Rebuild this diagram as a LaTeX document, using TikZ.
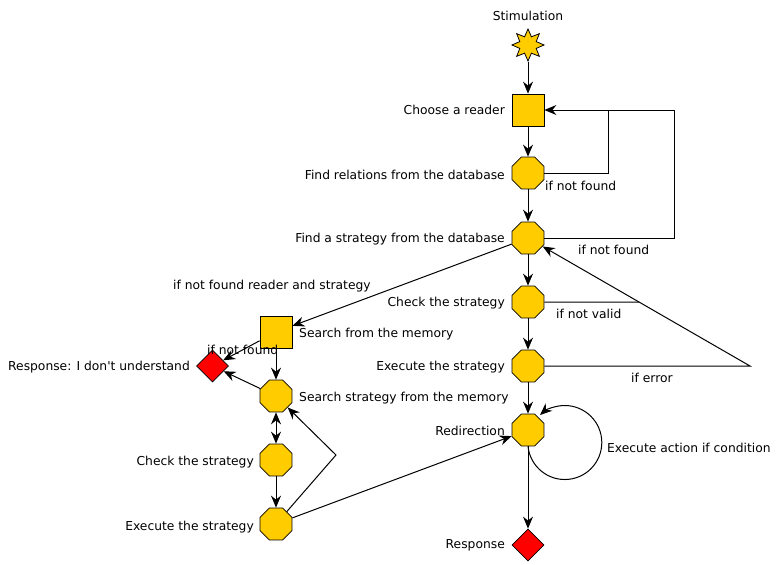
\documentclass[tikz,border=0pt]{standalone}
\usepackage{fontspec}
\setmainfont[Ligatures=NoCommon]{DejaVu Sans}
\usetikzlibrary{shapes.geometric,arrows.meta}
\definecolor{gold}{RGB}{255,204,0}
\definecolor{rred}{RGB}{255,0,0}
\begin{document}
\begin{tikzpicture}[x=1pt,y=-1pt,
  every node/.style={font=\fontsize{12.3}{14}\selectfont},
  oct/.style={regular polygon, regular polygon sides=8, minimum size=34.6pt, inner sep=0pt, draw, fill=gold, line width=0.8pt},
  sq/.style={rectangle, minimum size=32pt, inner sep=0pt, draw, fill=gold, line width=0.8pt},
  dia/.style={diamond, aspect=1, minimum size=32pt, inner sep=0pt, draw, fill=rred, line width=0.8pt},
  burst/.style={star, star points=8, star point ratio=1.8, minimum size=32pt, inner sep=0pt, draw, fill=gold, line width=0.8pt},
  lblr/.style={anchor=base east, inner sep=0pt},
  lbll/.style={anchor=base west, inner sep=0pt},
  conn/.style={line width=1pt},
  arr/.style={conn, -{Stealth[length=12pt,width=10pt,inset=4pt]}},
  darr/.style={conn, {Stealth[length=12pt,width=10pt,inset=4pt]}-{Stealth[length=12pt,width=10pt,inset=4pt]}}
]
\useasboundingbox (0,0) rectangle (780,565);
\fill[white] (0,0) rectangle (780,565);

% main column
\node[burst] (stim) at (528,45) {};
\node[sq] (reader) at (528,110) {};
\node[oct] (rel) at (528,173) {};
\node[oct] (strat) at (528,238) {};
\node[oct] (check) at (528,302) {};
\node[oct] (exec) at (528,366) {};
\node[oct] (redir) at (528,430) {};
\node[dia] (resp) at (528,545) {};

% left column
\node[sq] (mem) at (276,332) {};
\node[dia] (dontu) at (212.5,366) {};
\node[oct] (smem) at (276,396) {};
\node[oct] (lcheck) at (276,460) {};
\node[oct] (lexec) at (276,524) {};

% labels
\node[anchor=base, inner sep=0pt] (tstim) at (528,20) {Stimulation};
\node[lblr] (treader) at (505,114) {Choose a reader};
\node[lblr] (trel) at (505,179) {Find relations from the database};
\node[lblr] (tstrat) at (505,242) {Find a strategy from the database};
\node[lblr] (tcheck) at (505,306) {Check the strategy};
\node[lblr] (texec) at (505,370) {Execute the strategy};
\node[lblr] (tredir) at (505,435) {Redirection};
\node[lblr] (tresp) at (505,548) {Response};
\node[lbll] (tmem) at (299,337) {Search from the memory};
\node[lbll] (tsmem) at (299,401) {Search strategy from the memory};
\node[lblr] (tdontu) at (190,370) {Response: I don\textquotesingle t understand};
\node[lblr] (tlcheck) at (254,465) {Check the strategy};
\node[lblr] (tlexec) at (254,530) {Execute the strategy};
\node[lbll] (c1) at (545,190) {if not found};
\node[lbll] (c2) at (578,254) {if not found};
\node[lbll] (c3) at (556,318) {if not valid};
\node[lbll] (c4) at (631,382) {if error};
\node[lbll] (c5) at (173,289) {if not found reader and strategy};
\node[lbll] (c6) at (207,354) {if not found};
\node[lbll] (c7) at (607,452) {Execute action if condition};

% helper coordinates
\coordinate (j1) at (608,110);
\coordinate (j2) at (674,110);
\coordinate (d1) at (750,366);
\coordinate (ce) at (d1 |- check.east);
\coordinate (d2) at (intersection of check.east--ce and d1--strat);
\coordinate (k1) at (336,455);

% connectors main column
\draw[arr] (stim) -- (reader);
\draw[arr] (reader) -- (rel);
\draw[arr] (rel) -- (strat);
\draw[arr] (strat) -- (check);
\draw[arr] (check) -- (exec);
\draw[arr] (exec) -- (redir);
\draw[arr] (redir) -- (resp);
\draw[arr] (rel.east) -| (j1) -- (reader.east);
\draw[conn] (strat.east) -| (j2) -- (j1);
\draw[conn] (check.east) -- (d2);
\draw[arr] (exec.east) -- (d1) -- (strat);
\draw[arr] (redir.south) arc[start angle=174, end angle=-132, radius=37];

% connectors left
\draw[arr] (strat) -- (mem);
\draw[arr] (mem) -- (dontu);
\draw[arr] (mem) -- (smem);
\draw[arr] (smem) -- (dontu);
\draw[darr] (smem) -- (lcheck);
\draw[arr] (lcheck) -- (lexec);
\draw[arr] (lexec) -- (k1) -- (smem);
\draw[arr] (lexec) -- (redir);
\end{tikzpicture}
\end{document}
